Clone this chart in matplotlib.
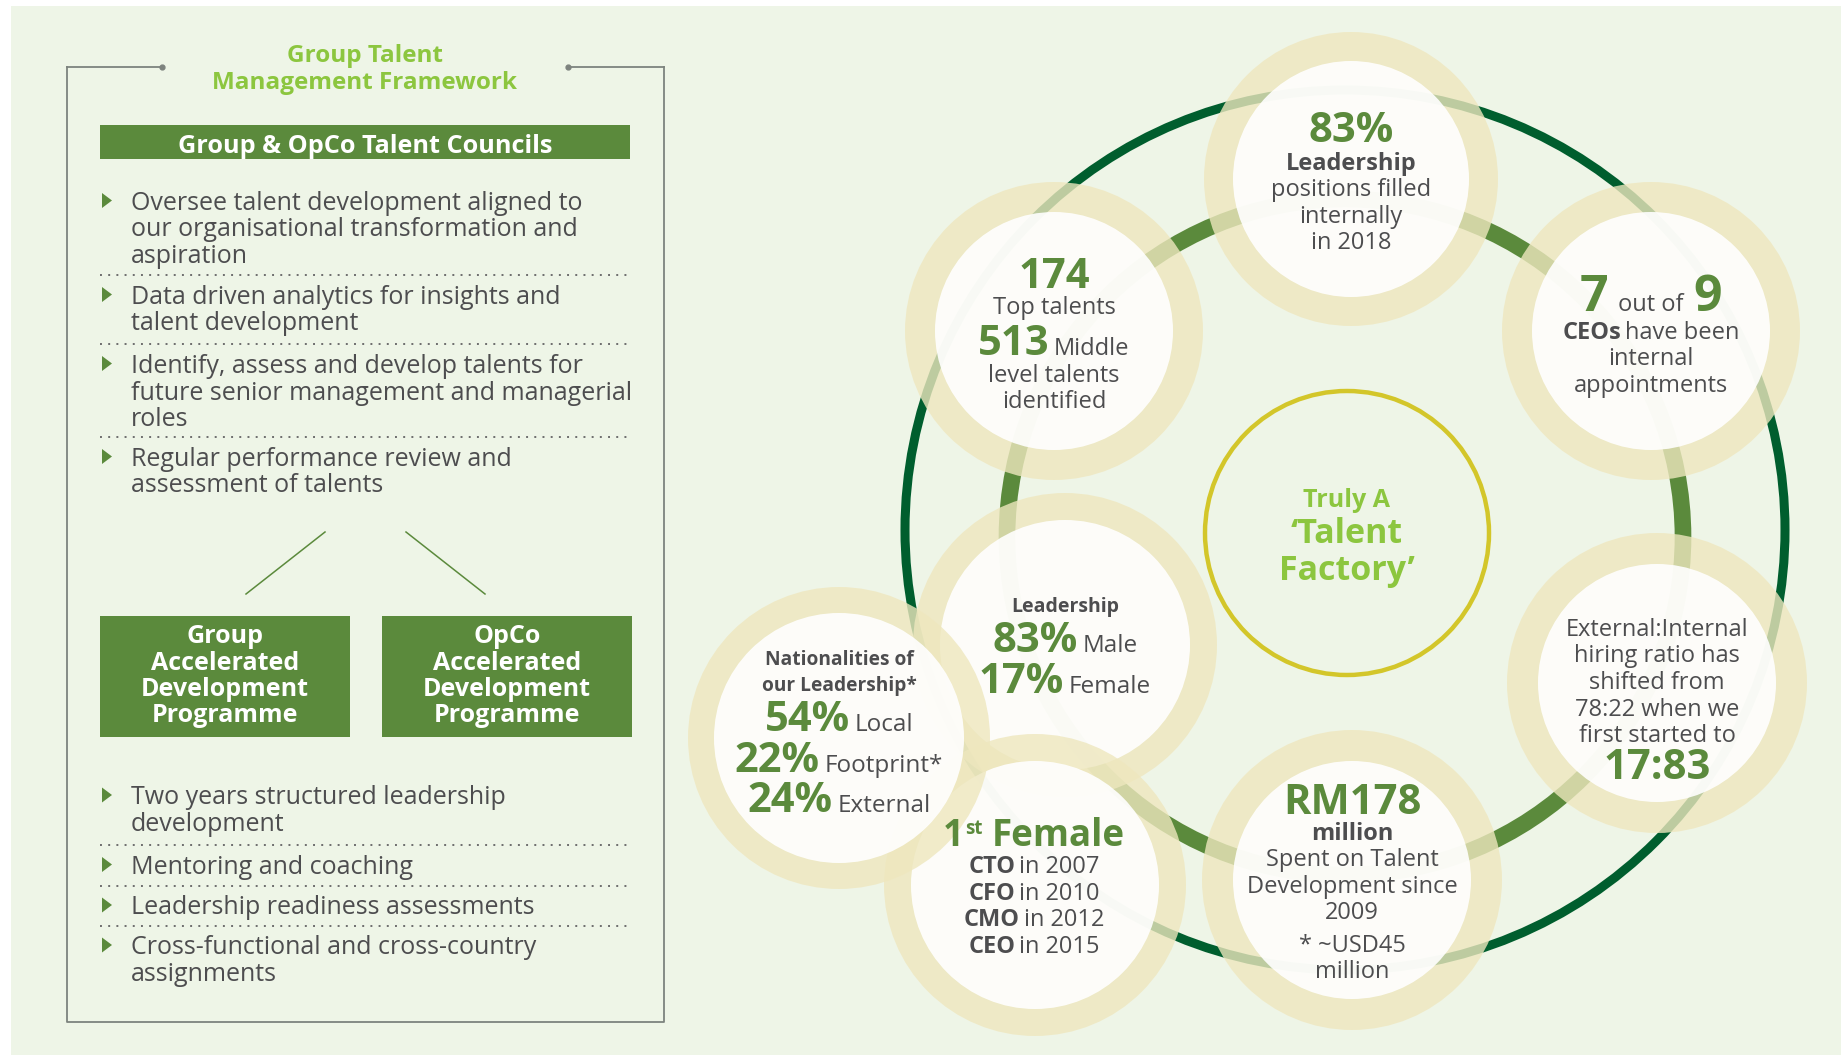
import matplotlib
matplotlib.use("Agg")
import matplotlib.pyplot as plt
from matplotlib.patches import Circle, Rectangle, Polygon

plt.rcParams['font.family'] = ['Open Sans', 'DejaVu Sans']
plt.rcParams['lines.scale_dashes'] = False

# ---- content -------------------------------------------------------------
title = "Group Talent\nManagement Framework"
council_header = "Group & OpCo Talent Councils"
council_points = [
    ["Oversee talent development aligned to", "our organisational transformation and", "aspiration"],
    ["Data driven analytics for insights and", "talent development"],
    ["Identify, assess and develop talents for", "future senior management and managerial", "roles"],
    ["Regular performance review and", "assessment of talents"],
]
programme_boxes = [
    ["Group", "Accelerated", "Development", "Programme"],
    ["OpCo", "Accelerated", "Development", "Programme"],
]
programme_points = [
    ["Two years structured leadership", "development"],
    ["Mentoring and coaching"],
    ["Leadership readiness assessments"],
    ["Cross-functional and cross-country", "assignments"],
]

leadership_internal_pct = 83
leadership_internal_year = 2018
top_talents = 174
middle_talents = 513
internal_ceos = 7
total_ceos = 9
hiring_ratio_start = "78:22"
hiring_ratio_now = "17:83"
talent_spend_rm = 178
talent_spend_usd = 45
talent_spend_since = 2009
female_first_roles = ["CTO", "CFO", "CMO", "CEO"]
female_first_years = [2007, 2010, 2012, 2015]
gender_pct = [83, 17]
gender_labels = ["Male", "Female"]
nationality_pct = [54, 22, 24]
nationality_labels = ["Local", "Footprint*", "External"]

# ---- colours -------------------------------------------------------------
BG = '#eef5e7'
GREEN = '#5b8a3c'
LIGHT_GREEN = '#8cc63f'
DARK_GREEN = '#005e2e'
YELLOW = '#d3c62a'
CREAM = '#eee7be'
GREY = '#4d4d4f'
FRAME = '#7d837e'

W, H = 1841, 1055
fig = plt.figure(figsize=(W / 100, H / 100), dpi=100)
ax = fig.add_axes([0, 0, 1, 1])
ax.set_xlim(0, W)
ax.set_ylim(H, 0)
ax.axis('off')
renderer = fig.canvas.get_renderer()

ax.add_patch(Rectangle((11, 6), W - 11, H - 6, fc=BG, ec='none', zorder=0))


def draw_line(cx, y, runs, gap=5, zorder=30):
    # runs: (text, size, weight, colour[, dy]) laid out on one baseline, centred on cx
    # gap may be a single number or one value per joint between runs
    gaps = gap if isinstance(gap, (list, tuple)) else [gap] * (len(runs) - 1)
    texts, widths = [], []
    for run in runs:
        s, size, weight, color = run[:4]
        dy = run[4] if len(run) > 4 else 0
        t = ax.text(0, y + dy, s, fontsize=size, fontweight=weight, color=color,
                    ha='left', va='baseline', zorder=zorder)
        texts.append(t)
        widths.append(t.get_window_extent(renderer).width)
    total = sum(widths) + sum(gaps)
    x = cx - total / 2
    for k, (t, w) in enumerate(zip(texts, widths)):
        t.set_x(x)
        x += w + (gaps[k] if k < len(gaps) else 0)


# ---- left panel ----------------------------------------------------------
fx0, fx1, fy0, fy1 = 67, 664, 67, 1022
ax.plot([fx0, fx0, fx1, fx1], [fy0, fy1, fy1, fy0], color=FRAME, lw=1.3, zorder=2)
ax.plot([fx0, 162], [fy0, fy0], color=FRAME, lw=1.3, zorder=2)
ax.plot([568, fx1], [fy0, fy0], color=FRAME, lw=1.3, zorder=2)
ax.plot([162, 568], [fy0, fy0], 'o', color=FRAME, ms=3.5, zorder=2)

for i, line in enumerate(title.split("\n")):
    ax.text(365, 62 + i * 27, line, fontsize=17.5, fontweight='bold', color=LIGHT_GREEN,
            ha='center', va='baseline')

ax.add_patch(Rectangle((100, 125), 530, 34, fc=GREEN, ec='none'))
ax.text(365, 153, council_header, fontsize=18.2, fontweight='bold', color='white',
        ha='center', va='baseline')

LINE_H = 26.5
BODY = 18


def bullet_list(items, first_baseline, seps):
    y = first_baseline
    for k, item in enumerate(items):
        ax.add_patch(Polygon([[102, y - 17], [102, y - 2], [112, y - 9.5]], closed=True,
                             fc=GREEN, ec='none'))
        for j, line in enumerate(item):
            ax.text(131, y + j * LINE_H, line, fontsize=BODY, color=GREY,
                    ha='left', va='baseline')
        if k < len(items) - 1:
            ax.plot([100, 632], [seps[k], seps[k]], color='#6d6d6d', lw=1.4,
                    linestyle=(0, (1.4, 4.5)))
            # next bullet starts below the dotted separator
            y = seps[k] + 29


bullet_list(council_points, 210, [275, 344, 437])
bullet_list(programme_points, 804.5, [845, 885.5, 925.5])

# connectors and programme boxes
ax.plot([325, 246], [532, 594], color=GREEN, lw=1.1)
ax.plot([406, 485], [532, 594], color=GREEN, lw=1.1)
for bx, lines in zip([100, 382], programme_boxes):
    ax.add_patch(Rectangle((bx, 616), 250, 121, fc=GREEN, ec='none'))
    for j, line in enumerate(lines):
        ax.text(bx + 125, 643 + j * 26.5, line, fontsize=18, fontweight='bold',
                color='white', ha='center', va='baseline')

# ---- right: talent factory -----------------------------------------------
ax.add_patch(Circle((1345, 530), 440, fc='none', ec=DARK_GREEN, lw=6.5, zorder=1))
ax.add_patch(Circle((1345, 537), 338, fc='none', ec=GREEN, lw=12, zorder=1))
ax.add_patch(Circle((1347, 533), 142, fc='none', ec=YELLOW, lw=3.2, zorder=1))

draw_line(1347, 507, [("Truly A", 18, 'bold', LIGHT_GREEN)])
draw_line(1347, 543, [("\u2018Talent", 24.5, 'bold', LIGHT_GREEN)])
draw_line(1347, 580, [("Factory\u2019", 24.5, 'bold', LIGHT_GREEN)])

# circles: (cx, cy, outer r, inner r)
bubbles = [
    (1065, 645, 152, 125),
    (1035, 885, 151, 124),
    (839, 738, 151, 125),
    (1351, 179, 147, 118),
    (1054, 331, 149, 119),
    (1651, 331, 149, 119),
    (1657, 683, 150, 119),
    (1352, 880, 150, 119),
]
for z, (cx, cy, ro, ri) in enumerate(bubbles):
    ax.add_patch(Circle((cx, cy), ro, fc=CREAM, ec='none', alpha=0.8, zorder=3 + 2 * z))
    ax.add_patch(Circle((cx, cy), ri, fc='white', ec='none', alpha=0.9, zorder=4 + 2 * z))

BIG = 30
SMALL = 17
LABEL = 17.5

# top bubble
draw_line(1351, 142, [(f"{leadership_internal_pct}%", BIG, 'bold', GREEN)])
draw_line(1351, 170, [("Leadership", SMALL, 'bold', GREY)])
draw_line(1351, 196, [("positions filled", SMALL, 'normal', GREY)])
draw_line(1351, 223, [("internally", SMALL, 'normal', GREY)])
draw_line(1351, 249, [(f"in {leadership_internal_year}", SMALL, 'normal', GREY)])

# top-left bubble
draw_line(1054, 288, [(str(top_talents), BIG, 'bold', GREEN)])
draw_line(1054, 314, [("Top talents", SMALL, 'normal', GREY)])
draw_line(1054, 355, [(str(middle_talents), BIG, 'bold', GREEN),
                      ("Middle", SMALL, 'normal', GREY)], gap=4)
draw_line(1054, 382, [("level talents", SMALL, 'normal', GREY)])
draw_line(1054, 408, [("identified", SMALL, 'normal', GREY)])

# top-right bubble
draw_line(1651, 311, [(str(internal_ceos), 36, 'bold', GREEN),
                      ("out of", SMALL, 'normal', GREY),
                      (str(total_ceos), 36, 'bold', GREEN)], gap=10)
draw_line(1651, 339, [("CEOs", SMALL, 'bold', GREY),
                      ("have been", SMALL, 'normal', GREY)], gap=4)
draw_line(1651, 365, [("internal", SMALL, 'normal', GREY)])
draw_line(1651, 392, [("appointments", SMALL, 'normal', GREY)])

# right bubble
hiring_lines = ["External:Internal", "hiring ratio has", "shifted from",
                f"{hiring_ratio_start} when we", "first started to"]
for j, line in enumerate(hiring_lines):
    draw_line(1657, 636 + j * 26.5, [(line, SMALL, 'normal', GREY)])
draw_line(1657, 779, [(hiring_ratio_now, BIG, 'bold', GREEN)])

# bottom bubble
draw_line(1352, 814, [(f"RM{talent_spend_rm}", BIG, 'bold', GREEN)])
draw_line(1352, 840, [("million", SMALL, 'bold', GREY)])
draw_line(1352, 866, [("Spent on Talent", SMALL, 'normal', GREY)])
draw_line(1352, 893, [("Development since", SMALL, 'normal', GREY)])
draw_line(1352, 919, [(str(talent_spend_since), SMALL, 'normal', GREY)])
draw_line(1352, 952, [(f"* ~USD{talent_spend_usd}", SMALL, 'normal', GREY)])
draw_line(1352, 978, [("million", SMALL, 'normal', GREY)])

# bottom-left bubble
draw_line(1034, 846, [("1", 26.5, 'bold', GREEN), ("st", 13.5, 'bold', GREEN, -12),
                      ("Female", 26.5, 'bold', GREEN)], gap=[1, 9])
for j, (role, year) in enumerate(zip(female_first_roles, female_first_years)):
    draw_line(1034, 873 + j * 26.7, [(role, SMALL, 'bold', GREY),
                                     (f"in {year}", SMALL, 'normal', GREY)], gap=4)

# left-middle bubble
draw_line(1065, 612, [("Leadership", 14, 'bold', GREY)])
for j, (pct, lab) in enumerate(zip(gender_pct, gender_labels)):
    draw_line(1065, 652 + j * 41, [(f"{pct}%", BIG, 'bold', GREEN),
                                   (lab, LABEL, 'normal', GREY)], gap=5)

# far-left bubble
draw_line(839, 665, [("Nationalities of", 13.8, 'bold', GREY)])
draw_line(839, 691, [("our Leadership*", 13.8, 'bold', GREY)])
for j, (pct, lab) in enumerate(zip(nationality_pct, nationality_labels)):
    draw_line(839, 731 + j * 40.5, [(f"{pct}%", BIG, 'bold', GREEN),
                                   (lab, LABEL, 'normal', GREY)], gap=5)

fig.savefig("out.png", dpi=100, facecolor='white')
